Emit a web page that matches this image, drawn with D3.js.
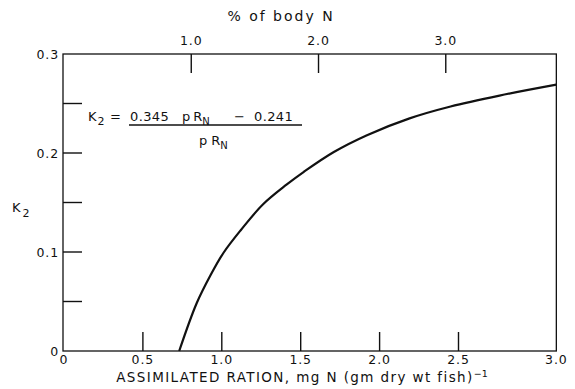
<!DOCTYPE html>
<html>
<head>
<meta charset="utf-8">
<script src="https://cdn.jsdelivr.net/npm/d3@7"></script>
<style>
  html, body { margin: 0; padding: 0; background: #fff; }
  svg { display: block; }
  text { font-family: "DejaVu Sans", sans-serif; fill: #111; }
</style>
</head>
<body>
<svg id="chart" width="575" height="389"></svg>
<script>
// Assimilated ration (mg N per gm dry wt fish) and the resulting K2 efficiency
const ration = [0.73, 0.84, 0.93, 1.01, 1.12, 1.26, 1.41, 1.52, 1.71, 1.92, 2.19, 2.45, 2.76, 3.12];
const k2     = [0.000, 0.048, 0.077, 0.099, 0.122, 0.148, 0.168, 0.181, 0.201, 0.218, 0.235, 0.247, 0.258, 0.269];

// Axis ticks
const xTicks = [0.5, 1.0, 1.5, 2.0, 2.5];
const xTickLabels = ["0", "0.5", "1.0", "1.5", "2.0", "2.5", "3.0"];
const yTicks = [0.05, 0.10, 0.15, 0.20, 0.25];
const yTickLabels = [[0, "0"], [0.1, "0.1"], [0.2, "0.2"], [0.3, "0.3"]];
const pctTicks = [1.0, 2.0, 3.0];
const pctAtRation3 = 3.72;   // % of body N equivalent to a ration of 3.0

const svg = d3.select("#chart");
const ink = "#111";

const x = d3.scaleLinear().domain([0, 3]).range([64, 537.4]);
const xPct = d3.scaleLinear().domain([0, pctAtRation3]).range(x.range());
const y = d3.scaleLinear().domain([0, 0.3]).range([351, 54]);

const frameL = x(0) - 1, frameR = x(d3.max(ration));
const frameT = y(0.3), frameB = y(0);

// frame
svg.append("rect")
  .attr("x", frameL).attr("y", frameT)
  .attr("width", frameR - frameL).attr("height", frameB - frameT)
  .attr("fill", "none").attr("stroke", ink).attr("stroke-width", 1.3);

const tickLen = 19;
// bottom ticks, pointing up
svg.append("g").selectAll("line").data(xTicks).join("line")
  .attr("x1", d => x(d)).attr("x2", d => x(d))
  .attr("y1", frameB).attr("y2", frameB - tickLen)
  .attr("stroke", ink).attr("stroke-width", 1.4);
// left ticks, pointing right
svg.append("g").selectAll("line").data(yTicks).join("line")
  .attr("x1", frameL).attr("x2", frameL + tickLen)
  .attr("y1", d => y(d)).attr("y2", d => y(d))
  .attr("stroke", ink).attr("stroke-width", 1.4);
// top ticks (% of body N), pointing down
svg.append("g").selectAll("line").data(pctTicks).join("line")
  .attr("x1", d => xPct(d)).attr("x2", d => xPct(d))
  .attr("y1", frameT).attr("y2", frameT + tickLen)
  .attr("stroke", ink).attr("stroke-width", 1.4);

// bottom tick labels; the last one sits at the right corner of the frame
svg.append("g").selectAll("text").data(xTickLabels).join("text")
  .attr("x", (d, i) => i === xTickLabels.length - 1 ? frameR : x(i * 0.5))
  .attr("y", 364)
  .attr("text-anchor", "middle")
  .attr("font-size", 12.5).attr("letter-spacing", 0.9)
  .text(d => d);

// left tick labels
svg.append("g").selectAll("text").data(yTickLabels).join("text")
  .attr("x", 59)
  .attr("y", d => y(d[0]) + 4.5)
  .attr("text-anchor", "end")
  .attr("font-size", 12.5).attr("letter-spacing", 0.9)
  .text(d => d[1]);

// top tick labels
svg.append("g").selectAll("text").data(pctTicks).join("text")
  .attr("x", d => xPct(d))
  .attr("y", 45)
  .attr("text-anchor", "middle")
  .attr("font-size", 12.5).attr("letter-spacing", 0.9)
  .text(d => d.toFixed(1));

// axis titles
svg.append("text")
  .attr("x", 281).attr("y", 21)
  .attr("text-anchor", "middle")
  .attr("font-size", 14).attr("letter-spacing", 2)
  .text("% of body N");

const xt = svg.append("text")
  .attr("x", 302).attr("y", 382)
  .attr("text-anchor", "middle")
  .attr("font-size", 13.5).attr("letter-spacing", 1.4);
xt.append("tspan").text("ASSIMILATED  RATION, mg N (gm dry wt fish)");
xt.append("tspan").attr("dy", -5).attr("font-size", 9.5).attr("letter-spacing", 0).text("−1");

const yt = svg.append("text")
  .attr("x", 12).attr("y", 212)
  .attr("font-size", 13);
yt.append("tspan").text("K");
yt.append("tspan").attr("dx", 2).attr("dy", 5).attr("font-size", 11).text("2");

// formula: K2 = (0.345 pRN - 0.241) / pRN
const fs = 13;
const num = svg.append("g").attr("font-size", fs);
const k = num.append("text").attr("x", 88).attr("y", 121);
k.append("tspan").text("K");
k.append("tspan").attr("dx", 1).attr("dy", 4).attr("font-size", 11).text("2");
num.append("text").attr("x", 110).attr("y", 121).text("=");
num.append("text").attr("x", 130).attr("y", 121).attr("letter-spacing", 0.4).text("0.345");
const pr = num.append("text").attr("x", 182).attr("y", 121);
pr.append("tspan").text("p");
pr.append("tspan").attr("dx", 3).text("R");
pr.append("tspan").attr("dy", 4).attr("font-size", 10).text("N");
num.append("text").attr("x", 234).attr("y", 121).text("−");
num.append("text").attr("x", 254).attr("y", 121).attr("letter-spacing", 0.4).text("0.241");

svg.append("line")
  .attr("x1", 129).attr("x2", 302).attr("y1", 125).attr("y2", 125)
  .attr("stroke", ink).attr("stroke-width", 1.3);

const fd = svg.append("text").attr("x", 199).attr("y", 145).attr("font-size", fs);
fd.append("tspan").text("p");
fd.append("tspan").attr("dx", 4).text("R");
fd.append("tspan").attr("dy", 4).attr("font-size", 10).text("N");

// K2 curve
const pts = ration.map((r, i) => [r, k2[i]]);
svg.append("path")
  .datum(pts)
  .attr("d", d3.line().x(d => x(d[0])).y(d => y(d[1])).curve(d3.curveCatmullRom.alpha(0.5)))
  .attr("fill", "none").attr("stroke", ink).attr("stroke-width", 2.2);
</script>
</body>
</html>
